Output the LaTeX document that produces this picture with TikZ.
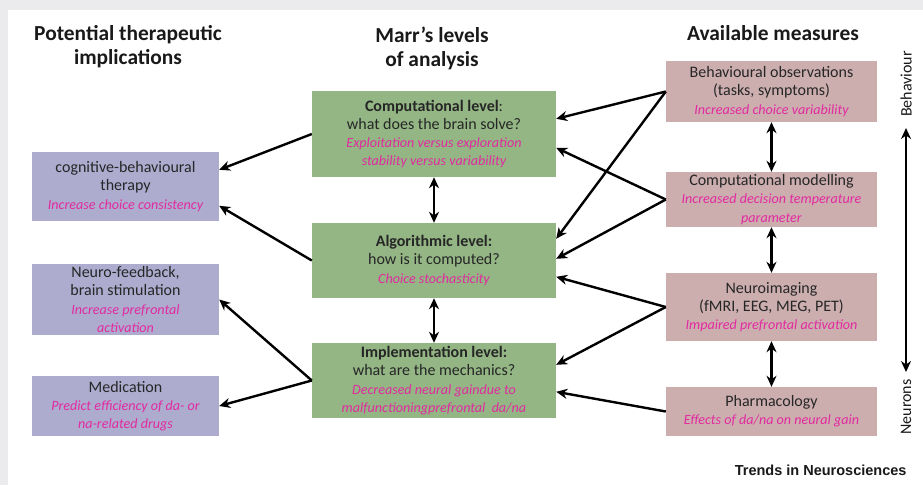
\documentclass[tikz,border=0pt]{standalone}
\usepackage{fontspec}
\setmainfont{Carlito}
\newfontfamily\trendsfont{Liberation Sans}
\usetikzlibrary{arrows.meta,calc}
\definecolor{bgray}{HTML}{EBEBED}
\definecolor{gbox}{HTML}{93B684}
\definecolor{pbox}{HTML}{ADACCF}
\definecolor{rbox}{HTML}{CDAEAF}
\definecolor{mag}{HTML}{E22AA0}
\tikzset{
  box/.style={inner sep=0pt, align=center, font=\fontsize{16}{18.2}\selectfont, text=black!85},
  leftbox/.style={box, fill=pbox},
  midbox/.style={box, fill=gbox},
  rightbox/.style={box, fill=rbox},
  head/.style={align=center, font=\bfseries\fontsize{21.4}{23.5}\selectfont, text=black!90},
  conn/.style={line width=2.4pt, -{Stealth[length=11pt,width=10pt]}},
  dconn/.style={line width=2.4pt, {Stealth[length=11pt,width=10pt]}-{Stealth[length=11pt,width=10pt]}},
  side/.style={font=\fontsize{16}{18}\selectfont, rotate=90, text=black!90}
}
\newcommand{\mg}[1]{{\color{mag}\itshape\fontsize{14.1}{18.2}\selectfont #1}}
\begin{document}
\begin{tikzpicture}[x=1pt,y=-1pt]
\fill[bgray] (0,0) rectangle (923,485);
\fill[white] (8,10) rectangle (923,485);
\useasboundingbox (0,0) rectangle (923,485);

% headings
\node[head] (h1) at (128,46.5) {Potential therapeutic\\implications};
\node[head] (h2) at (432,48.5) {Marr’s levels\\of analysis};
\node[head] (h3) at (773,33) {Available measures};

% left boxes
\node[leftbox, minimum width=187, minimum height=69] (cbt) at (125.5,186.5)
  {cognitive-behavioural\\therapy\\\mg{Increase choice consistency}};
\node[leftbox, minimum width=187, minimum height=71] (nf) at (125.5,299.5)
  {Neuro-feedback,\\brain stimulation\\\mg{Increase prefrontal}\\\mg{activation}};
\node[leftbox, minimum width=187, minimum height=60] (med) at (125.5,406)
  {Medication\\\mg{Predict efficiency of da- or}\\\mg{na-related drugs}};

% middle boxes
\node[midbox, minimum width=244, minimum height=86] (comp) at (434,134)
  {\textbf{Computational level}:\\what does the brain solve?\\\mg{Exploitation versus exploration}\\\mg{stability versus variability}};
\node[midbox, minimum width=244, minimum height=75] (alg) at (434,260.5)
  {\textbf{Algorithmic level:}\\how is it computed?\\\mg{Choice stochasticity}};
\node[midbox, minimum width=244, minimum height=75] (impl) at (434,380.5)
  {\textbf{Implementation level:}\\what are the mechanics?\\\mg{Decreased neural gaindue to}\\\mg{malfunctioningprefrontal\ \ da/na}};

% right boxes
\node[rightbox, minimum width=211, minimum height=61] (behav) at (771.5,91.5)
  {Behavioural observations\\(tasks, symptoms)\\\mg{Increased choice variability}};
\node[rightbox, minimum width=211, minimum height=55] (cmod) at (771.5,199.5)
  {Computational modelling\\\mg{Increased decision temperature}\\\mg{parameter}};
\node[rightbox, minimum width=211, minimum height=68] (nimg) at (771.5,307)
  {Neuroimaging\\(fMRI, EEG, MEG, PET)\\\mg{Impaired prefrontal activation}};
\node[rightbox, minimum width=211, minimum height=49] (pharm) at (771.5,411.5)
  {Pharmacology\\\mg{Effects of da/na on neural gain}};

% side axis
\node[side] (beh) at (906,84) {Behaviour};
\node[side] (neu) at (906,407) {Neurons};
\coordinate (axt) at (906,128);
\coordinate (axb) at (906,372);
\draw[dconn] (axt) -- (axb);

% vertical double arrows
\draw[dconn] (comp.south) -- (alg.north);
\draw[dconn] (alg.south) -- (impl.north);
\draw[dconn] (behav.south) -- (cmod.north);
\draw[dconn] (cmod.south) -- (nimg.north);
\draw[dconn] (nimg.south) -- (pharm.north);

% right -> middle
\draw[conn] (behav.west) -- ($(comp.north east)+(0,28)$);
\draw[conn] (behav.west) -- ($(alg.north east)+(0,16)$);
\draw[conn] (cmod.west) -- ($(comp.north east)+(0,57)$);
\draw[conn] (cmod.west) -- ($(alg.north east)+(0,36)$);
\draw[conn] (nimg.west) -- ($(alg.north east)+(0,54)$);
\draw[conn] (nimg.west) -- ($(impl.north east)+(0,22)$);
\draw[conn] (pharm.west) -- ($(impl.north east)+(0,49)$);

% middle -> left
\draw[conn] (comp.west) -- ($(cbt.north east)+(0,18)$);
\draw[conn] (alg.west) -- ($(cbt.north east)+(0,54)$);
\draw[conn] (impl.west) -- (nf.east);
\draw[conn] (impl.west) -- (med.east);

% credit
\node[anchor=east, font=\trendsfont\bfseries\fontsize{14.5}{16}\selectfont, text=black!90] (credit) at (910,470) {Trends in Neurosciences};
\end{tikzpicture}
\end{document}
